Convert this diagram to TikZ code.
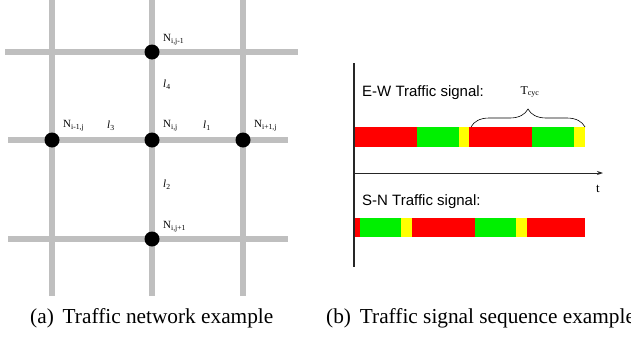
\documentclass[tikz,border=0pt]{standalone}
\usepackage{fontspec}
\setmainfont{Liberation Serif}
\setsansfont{Liberation Sans}
\usetikzlibrary{decorations.pathreplacing,arrows.meta}
\definecolor{sigred}{RGB}{255,0,0}
\definecolor{siggreen}{RGB}{0,240,0}
\definecolor{sigyellow}{RGB}{255,255,0}
\begin{document}
\begin{tikzpicture}[x=1pt,y=-1pt,>={Stealth[length=6pt,width=4pt]},
		road/.style={line width=6pt,gray!50},
		junction/.style={circle,fill=black,inner sep=0pt,minimum size=15pt},
		nlabel/.style={inner sep=0pt,anchor=west,font=\fontsize{11}{12}\selectfont},
		signal/.style={inner sep=0pt,anchor=west,font=\sffamily\fontsize{15}{17}\selectfont},
		caption/.style={inner sep=0pt,anchor=west,font=\fontsize{21.3}{24}\selectfont}]
		\useasboundingbox (0,0) rectangle (631,348);
		\foreach \x in {52,152,243}\draw[road] (\x,0)--(\x,296);
		\draw[road] (5,52)--(298,52);
		\foreach \y in {140,239}\draw[road] (8,\y)--(288,\y);
		\node[junction] (top) at (152,52) {};
		\node[junction] (left) at (52,140) {};
		\node[junction] (mid) at (152,140) {};
		\node[junction] (right) at (243,140) {};
		\node[junction] (bot) at (152,239) {};
		\node[nlabel] (ntop) at (163,40) {N\textsubscript{i,j-1}};
		\node[nlabel] (nleft) at (63,126) {N\textsubscript{i-1,j}};
		\node[nlabel] (nmid) at (163,126) {N\textsubscript{i,j}};
		\node[nlabel] (nright) at (254,126) {N\textsubscript{i+1,j}};
		\node[nlabel] (nbot) at (163,227) {N\textsubscript{i,j+1}};
		\node[nlabel] (l4) at (163,85) {\textit{l}\textsubscript{4}};
		\node[nlabel] (l3) at (107,126) {\textit{l}\textsubscript{3}};
		\node[nlabel] (l1) at (203,126) {\textit{l}\textsubscript{1}};
		\node[nlabel] (l2) at (163,185) {\textit{l}\textsubscript{2}};
		\foreach \a/\b/\c in {354/417/sigred,417/459/siggreen,459/469/sigyellow,469/532/sigred,532/574/siggreen,574/585/sigyellow}
			\fill[\c] (\a,127) rectangle (\b,147);
		\foreach \a/\b/\c in {354/360/sigred,360/401/siggreen,401/412/sigyellow,412/475/sigred,475/516/siggreen,516/527/sigyellow,527/585/sigred}
			\fill[\c] (\a,218) rectangle (\b,237);
		\coordinate (ytop) at (354,63);
		\coordinate (ybot) at (354,267);
		\coordinate (origin) at (354,173);
		\coordinate (tend) at (603,173);
		\draw[line width=1.2pt,gray!30!black] (ytop)--(ybot);
		\draw[->,line width=0.9pt,gray!30!black] (origin)--(tend);
		\node[inner sep=0pt,font=\fontsize{13}{15}\selectfont] (t) at (598,189) {t};
		\node[signal] (ew) at (362,93) {E-W Traffic signal:};
		\node[signal] (sn) at (362,202) {S-N Traffic signal:};
		\coordinate (bl) at (471,127);
		\coordinate (br) at (585,127);
		\draw[decorate,decoration={brace,amplitude=18pt},line width=0.6pt] (bl)--(br);
		\node[inner sep=0pt,font=\fontsize{12}{14}\selectfont] (tcyc) at (530,92) {T\textsubscript{cyc}};
		\node[caption] (capa) at (30,318) {(a)\, Traffic network example};
		\node[caption] (capb) at (326,318) {(b)\, Traffic signal sequence example};
\end{tikzpicture}
\end{document}
